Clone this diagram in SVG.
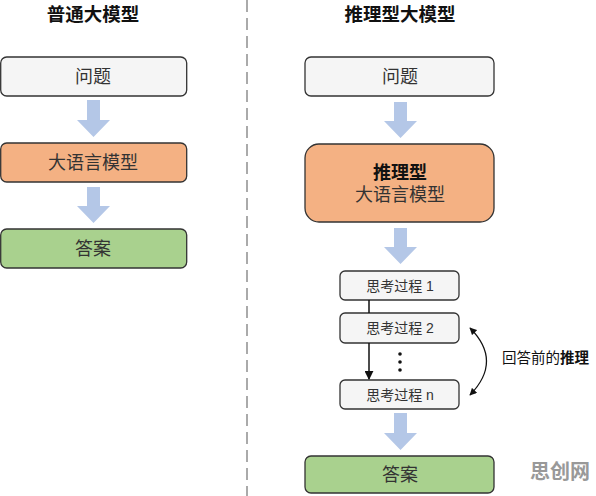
<svg xmlns="http://www.w3.org/2000/svg" width="596" height="496" viewBox="0 0 596 496">
<style>
text{font-family:"Liberation Sans","Noto Sans CJK SC",sans-serif;fill:#333;text-anchor:middle;dominant-baseline:central}
.title{font-size:18.5px;font-weight:bold;fill:#111}
.big{font-size:18px}
.small{font-size:14px}
.q{fill:#f5f5f5;stroke:#333;stroke-width:1.3}
.llm{fill:#f4b183;stroke:#333;stroke-width:1.3}
.ans{fill:#a9d18e;stroke:#333;stroke-width:1.3}
.blk{fill:#b4c7e7}
</style>
<defs>
<marker id="ah" viewBox="0 0 10 10" refX="9" refY="5" markerWidth="6" markerHeight="6" orient="auto-start-reverse"><path d="M0,0 L10,5 L0,10 z" fill="#111"/></marker>
</defs>
<line x1="247" y1="0" x2="247" y2="496" stroke="#aaa" stroke-width="2" stroke-dasharray="12 6"/>
<text class="title" x="93" y="14">普通大模型</text>
<text class="title" x="400" y="14">推理型大模型</text>
<g id="l-q"><rect class="q" x="0.7" y="57" width="186" height="39" rx="6"/><text class="big" x="93" y="76.5">问题</text></g>
<g id="l-llm"><rect class="llm" x="0.7" y="143" width="186" height="39" rx="6"/><text class="big" x="93" y="162.5">大语言模型</text></g>
<g id="l-ans"><rect class="ans" x="0.7" y="229" width="186" height="39" rx="6"/><text class="big" x="93" y="248.5">答案</text></g>
<g id="r-q"><rect class="q" x="305" y="57" width="189" height="39" rx="6"/><text class="big" x="400" y="76.5">问题</text></g>
<g id="r-llm"><rect class="llm" x="305" y="144" width="189" height="78" rx="14"/><text class="big" x="400" y="173" style="font-weight:bold;fill:#111">推理型</text><text class="big" x="400" y="195">大语言模型</text></g>
<g id="t1"><rect class="q" x="340" y="271" width="119" height="29" rx="5"/><text class="small" x="400" y="285.5">思考过程 1</text></g>
<g id="t2"><rect class="q" x="340" y="313" width="119" height="30" rx="5"/><text class="small" x="400" y="328">思考过程 2</text></g>
<g id="tn"><rect class="q" x="340" y="380" width="119" height="29" rx="5"/><text class="small" x="400" y="394.5">思考过程 n</text></g>
<g id="r-ans"><rect class="ans" x="305" y="456" width="189" height="37" rx="6"/><text class="big" x="400" y="474.5">答案</text></g>
<g id="connectors">
<path class="blk" d="M87,100 H100 V120 H110 L93.5,137 L77,120 H87 Z"/>
<path class="blk" d="M87,187 H100 V206 H110 L93.5,223 L77,206 H87 Z"/>
<path class="blk" d="M394,102 H407 V121 H417 L400.5,138 L384,121 H394 Z"/>
<path class="blk" d="M394,228 H407 V247 H417 L400.5,264 L384,247 H394 Z"/>
<path class="blk" d="M394,413 H407 V433 H417 L400.5,450 L384,433 H394 Z"/>
<line x1="369" y1="300" x2="369" y2="313" stroke="#111" stroke-width="1.5"/>
<line x1="369" y1="343" x2="369" y2="379" stroke="#111" stroke-width="1.5" marker-end="url(#ah)"/>
<path d="M470,328 Q503,361 470,395" fill="none" stroke="#111" stroke-width="1.2" marker-start="url(#ah)" marker-end="url(#ah)"/>
</g>
<circle cx="400" cy="354" r="1.8" fill="#111"/>
<circle cx="400" cy="362" r="1.8" fill="#111"/>
<circle cx="400" cy="370" r="1.8" fill="#111"/>
<text class="small" x="502" y="358" style="text-anchor:start;fill:#111;font-size:14.5px">回答前的<tspan style="font-weight:bold">推理</tspan></text>
<text x="560" y="472" style="font-size:20px;font-weight:bold;fill:#999">思创网</text>
</svg>
